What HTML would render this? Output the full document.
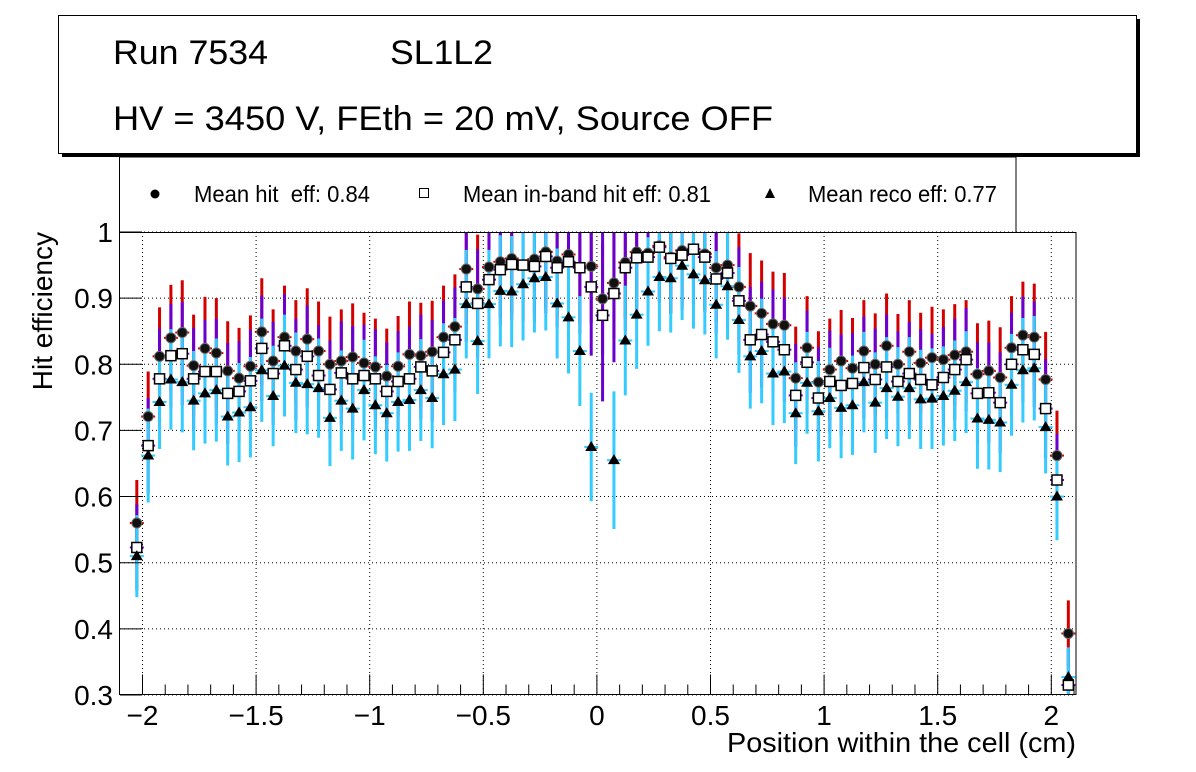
<!DOCTYPE html>
<html><head><meta charset="utf-8"><style>
html,body{margin:0;padding:0;background:#fff;}
svg{display:block;font-family:"Liberation Sans",Arial,sans-serif;}
</style></head><body>
<svg id="chart" width="1196" height="772" viewBox="0 0 1196 772" xmlns="http://www.w3.org/2000/svg">
<defs><clipPath id="plotclip"><rect x="120" y="232" width="956" height="463"/></clipPath></defs>
<rect x="0" y="0" width="1196" height="772" fill="#fff"/>
<g>
<rect x="62" y="19" width="1078" height="138" fill="#000"/>
<rect x="58.5" y="15.5" width="1078" height="138" fill="#fff" stroke="#000" stroke-width="1"/>
<text x="113" y="64" font-size="34" textLength="155" lengthAdjust="spacingAndGlyphs">Run 7534</text>
<text x="390" y="64" font-size="34" textLength="103" lengthAdjust="spacingAndGlyphs">SL1L2</text>
<text x="113" y="130" font-size="34" textLength="660" lengthAdjust="spacingAndGlyphs">HV = 3450 V, FEth = 20 mV, Source OFF</text>
</g>
<g>
<rect x="119.5" y="157" width="896.5" height="75.5" fill="#fff" stroke="#000" stroke-width="1"/>
<circle cx="155" cy="194" r="4.5" fill="#000"/>
<text x="194" y="202" font-size="23" textLength="176" lengthAdjust="spacingAndGlyphs">Mean hit &#160;eff: 0.84</text>
<rect x="419.5" y="188.5" width="9" height="9" fill="#fff" stroke="#000"/>
<text x="463" y="202" font-size="23" textLength="248" lengthAdjust="spacingAndGlyphs">Mean in-band hit eff: 0.81</text>
<path d="M770 188 L775 198 L765 198 Z" fill="#000"/>
<text x="808" y="202" font-size="23" textLength="189" lengthAdjust="spacingAndGlyphs">Mean reco eff: 0.77</text>
</g>
<rect x="120" y="232" width="956" height="463" fill="#fff"/>
<g id="grid"></g>
<g id="marks" clip-path="url(#plotclip)"></g>
<rect x="119.5" y="232.5" width="956.5" height="462" fill="none" stroke="#000" stroke-width="1"/>
<g id="axes"></g>
<text x="727" y="752" font-size="28" textLength="349" lengthAdjust="spacingAndGlyphs">Position within the cell (cm)</text>
<text transform="translate(52,232) rotate(-90)" font-size="28" text-anchor="end">Hit efficiency</text>
</svg>
<script>
const bins = [-2.025,-1.975,-1.925,-1.875,-1.825,-1.775,-1.725,-1.675,-1.625,-1.575,-1.525,-1.475,-1.425,-1.375,-1.325,-1.275,-1.225,-1.175,-1.125,-1.075,-1.025,-0.975,-0.925,-0.875,-0.825,-0.775,-0.725,-0.675,-0.625,-0.575,-0.525,-0.475,-0.425,-0.375,-0.325,-0.275,-0.225,-0.175,-0.125,-0.075,-0.025,0.025,0.075,0.125,0.175,0.225,0.275,0.325,0.375,0.425,0.475,0.525,0.575,0.625,0.675,0.725,0.775,0.825,0.875,0.925,0.975,1.025,1.075,1.125,1.175,1.225,1.275,1.325,1.375,1.425,1.475,1.525,1.575,1.625,1.675,1.725,1.775,1.825,1.875,1.925,1.975,2.025,2.075];
const hitEff = [0.560,0.721,0.812,0.840,0.848,0.798,0.824,0.817,0.790,0.779,0.797,0.849,0.805,0.841,0.820,0.838,0.820,0.800,0.805,0.811,0.802,0.796,0.782,0.797,0.815,0.813,0.819,0.841,0.857,0.944,0.914,0.947,0.955,0.960,0.950,0.959,0.970,0.956,0.966,0.946,0.948,0.899,0.923,0.954,0.970,0.968,0.979,0.962,0.972,0.974,0.967,0.946,0.950,0.917,0.888,0.877,0.861,0.859,0.779,0.825,0.773,0.792,0.805,0.794,0.820,0.800,0.828,0.800,0.819,0.802,0.810,0.807,0.814,0.819,0.785,0.790,0.780,0.825,0.844,0.841,0.777,0.662,0.393];
const bandEff = [0.523,0.677,0.778,0.813,0.816,0.778,0.789,0.789,0.756,0.759,0.775,0.824,0.786,0.828,0.792,0.812,0.783,0.762,0.787,0.778,0.783,0.778,0.759,0.774,0.778,0.796,0.790,0.818,0.837,0.917,0.892,0.928,0.943,0.951,0.950,0.948,0.963,0.946,0.955,0.946,0.917,0.874,0.907,0.946,0.961,0.962,0.977,0.960,0.965,0.974,0.962,0.929,0.938,0.896,0.837,0.845,0.834,0.822,0.753,0.803,0.749,0.774,0.768,0.771,0.795,0.777,0.796,0.774,0.786,0.777,0.769,0.780,0.792,0.807,0.756,0.757,0.742,0.800,0.822,0.815,0.733,0.625,0.315];
const recoEff = [0.510,0.662,0.743,0.777,0.773,0.745,0.756,0.761,0.721,0.727,0.735,0.791,0.752,0.798,0.772,0.770,0.764,0.719,0.745,0.733,0.761,0.738,0.726,0.743,0.746,0.761,0.749,0.785,0.792,0.891,0.835,0.891,0.911,0.910,0.921,0.930,0.932,0.892,0.871,0.820,0.675,null,0.655,0.836,0.875,0.910,0.932,0.930,0.949,0.936,0.927,0.890,0.918,0.867,0.812,0.820,0.786,0.789,0.726,0.772,0.729,0.749,0.734,0.738,0.773,0.742,0.764,0.751,0.764,0.747,0.748,0.752,0.760,0.773,0.718,0.716,0.712,0.769,0.791,0.794,0.705,0.600,0.327];
const hitErr = [0.065,0.068,0.074,0.080,0.079,0.077,0.078,0.083,0.075,0.076,0.077,0.081,0.078,0.078,0.077,0.077,0.075,0.072,0.078,0.081,0.076,0.073,0.072,0.076,0.080,0.080,0.077,0.078,0.079,0.083,0.082,0.083,0.084,0.084,0.085,0.083,0.084,0.085,0.085,0.084,0.085,0.085,0.085,0.085,0.084,0.084,0.084,0.084,0.083,0.083,0.083,0.082,0.082,0.081,0.080,0.080,0.079,0.079,0.078,0.078,0.077,0.077,0.077,0.076,0.077,0.077,0.079,0.076,0.078,0.076,0.077,0.076,0.077,0.078,0.077,0.076,0.076,0.078,0.081,0.081,0.072,0.068,0.050];
const bandErr = [0.065,0.072,0.076,0.078,0.078,0.077,0.078,0.080,0.076,0.076,0.077,0.080,0.078,0.078,0.077,0.077,0.076,0.074,0.078,0.080,0.077,0.075,0.074,0.076,0.079,0.079,0.077,0.078,0.079,0.083,0.082,0.083,0.084,0.084,0.085,0.085,0.086,0.090,0.095,0.100,0.104,0.130,0.104,0.095,0.088,0.085,0.084,0.084,0.083,0.083,0.083,0.082,0.082,0.081,0.080,0.080,0.079,0.079,0.078,0.078,0.077,0.077,0.077,0.076,0.077,0.077,0.079,0.076,0.078,0.076,0.077,0.076,0.077,0.078,0.077,0.076,0.076,0.078,0.080,0.080,0.075,0.070,0.055];
const recoErr = [0.062,0.071,0.071,0.076,0.076,0.075,0.076,0.078,0.074,0.075,0.076,0.078,0.076,0.077,0.076,0.076,0.075,0.073,0.076,0.077,0.076,0.074,0.073,0.075,0.077,0.077,0.076,0.077,0.078,0.082,0.080,0.082,0.084,0.084,0.085,0.082,0.081,0.083,0.085,0.083,0.082,0.082,0.104,0.083,0.082,0.082,0.082,0.082,0.082,0.082,0.082,0.081,0.081,0.080,0.079,0.079,0.078,0.078,0.077,0.077,0.076,0.076,0.076,0.075,0.076,0.076,0.077,0.075,0.077,0.075,0.076,0.075,0.076,0.077,0.076,0.075,0.075,0.077,0.079,0.079,0.070,0.066,0.045];
const xTicks = [-2,-1.5,-1,-0.5,0,0.5,1,1.5,2];
const xTickLabels = ["\u22122","\u22121.5","\u22121","\u22120.5","0","0.5","1","1.5","2"];
const yTicks = [0.3,0.4,0.5,0.6,0.7,0.8,0.9,1.0];
const yTickLabels = ["0.3","0.4","0.5","0.6","0.7","0.8","0.9","1"];

const NS = "http://www.w3.org/2000/svg";
function X(v){ return 142.5 + (v + 2) * 227.2; }
function Y(v){ return 232 + (1 - v) * 661.4; }
function mk(tag, attrs, parent){
  const e = document.createElementNS(NS, tag);
  for (const k in attrs) e.setAttribute(k, attrs[k]);
  parent.appendChild(e);
  return e;
}
const grid = document.getElementById('grid');
const axes = document.getElementById('axes');
const marks = document.getElementById('marks');

xTicks.forEach((t) => {
  const l = mk('line', {x1: X(t), x2: X(t), y1: 232, y2: 695, stroke: '#000', 'stroke-width': 1, 'stroke-dasharray': '1,3'}, grid);
  
  
});
yTicks.forEach((t) => {
  const l = mk('line', {x1: 120, x2: 1076, y1: Y(t), y2: Y(t), stroke: '#000', 'stroke-width': 1, 'stroke-dasharray': '1,3'}, grid);
  
  
});
for (let i = -21; i <= 21; i++) {
  const v = i / 10;
  const px = X(v);
  if (px < 120 || px > 1076) continue;
  const major = (i % 5 === 0);
  const l = mk('line', {x1: px, x2: px, y1: 694.5, y2: 694.5 - (major ? 20 : 10), stroke: '#000', 'stroke-width': 1}, axes);
  
  
}
xTicks.forEach((t, i) => {
  const tx = mk('text', {x: X(t), y: 725, 'font-size': 28, 'text-anchor': 'middle'}, axes);
  tx.textContent = xTickLabels[i];
  
  
});
yTicks.forEach((t, i) => {
  const l = mk('line', {x1: 120, x2: 142, y1: Y(t), y2: Y(t), stroke: '#000', 'stroke-width': 1}, axes);
  
  
  const tx = mk('text', {x: 113, y: Y(t) + 10, 'font-size': 28, 'text-anchor': 'end'}, axes);
  tx.textContent = yTickLabels[i];
  
  
});

const series = [
  {vals: hitEff, errs: hitErr, color: '#d40000', name: 'hit'},
  {vals: bandEff, errs: bandErr, color: '#6a00d0', name: 'inband'},
  {vals: recoEff, errs: recoErr, color: '#33ccff', name: 'reco'}
];
series.forEach((s) => {
  bins.forEach((b, i) => {
    const v = s.vals[i];
    if (v === null) return;
    const px = X(b);
    const e = s.errs[i];
    const l = mk('line', {x1: px, x2: px, y1: Y(v + e), y2: Y(v - e), stroke: s.color, 'stroke-width': 3}, marks);
    
    
    const h = mk('line', {x1: px - 7, x2: px + 7, y1: Y(v), y2: Y(v), stroke: s.color, 'stroke-width': 2}, marks);
    
    
  });
});
bins.forEach((b, i) => {
  const px = X(b);
  const c = mk('circle', {cx: px, cy: Y(hitEff[i]), r: 5, fill: '#111', stroke: '#666', 'stroke-width': 1}, marks);
  
  
});
bins.forEach((b, i) => {
  const px = X(b), py = Y(bandEff[i]);
  const r = mk('rect', {x: px - 5, y: py - 5, width: 10, height: 10, fill: '#fff', stroke: '#000', 'stroke-width': 1.5}, marks);
  
  
});
bins.forEach((b, i) => {
  if (recoEff[i] === null) return;
  const px = X(b), py = Y(recoEff[i]);
  const t = mk('path', {d: `M${px} ${py-6} L${px+6} ${py+4} L${px-6} ${py+4} Z`, fill: '#000'}, marks);
  
  
});
</script>
</body></html>
